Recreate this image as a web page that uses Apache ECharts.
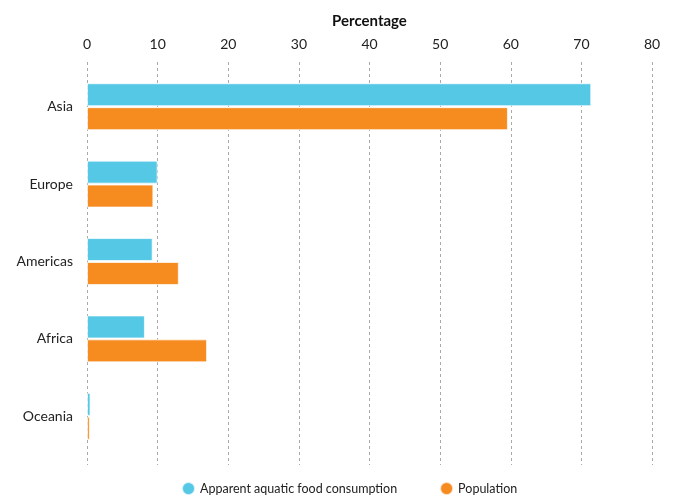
<!DOCTYPE html>
<html>
<head>
<meta charset="utf-8">
<script src="https://cdn.jsdelivr.net/npm/echarts@6/dist/echarts.min.js"></script>
<style>html,body{margin:0;padding:0;background:#fff}#c{width:678px;height:496px}</style>
</head>
<body>
<div id="c"></div>
<script>
const categories = ["Asia", "Europe", "Americas", "Africa", "Oceania"];
const consumption = [71.4, 10.0, 9.3, 8.2, 0.5];
const population = [59.6, 9.4, 13.0, 17.0, 0.4];
const seriesNames = ["Apparent aquatic food consumption", "Population"];
const xMin = 0, xMax = 80, xStep = 10;

const FONT = "Lato";
const chart = echarts.init(document.getElementById('c'), null, {renderer: 'canvas'});
chart.setOption({
  backgroundColor: '#fff',
  animation: false,
  textStyle: {fontFamily: FONT},
  legend: {
    data: seriesNames,
    left: 176,
    bottom: -5,
    icon: 'circle',
    itemWidth: 13,
    itemHeight: 13,
    itemGap: 42,
    textStyle: {color: '#222', fontSize: 12.5, fontFamily: FONT}
  },
  grid: [
    {left: 87, right: 26, top: 62, bottom: 31},
    {left: 87, right: 26, top: 68, bottom: 41}
  ],
  xAxis: [
    {
      gridIndex: 0, type: 'value', position: 'top', min: xMin, max: xMax, interval: xStep,
      name: 'Percentage', nameLocation: 'middle', nameGap: 33,
      nameTextStyle: {color: '#111', fontSize: 15, fontWeight: 'bold', fontFamily: FONT},
      axisLine: {show: false}, axisTick: {show: false},
      axisLabel: {color: '#222', fontSize: 14, margin: 11, fontFamily: FONT},
      splitLine: {show: true, lineStyle: {color: '#aaa', type: [3, 3], width: 1}}
    },
    {
      gridIndex: 1, type: 'value', min: xMin, max: xMax, interval: xStep, show: false,
      splitLine: {show: false}
    }
  ],
  yAxis: [
    {gridIndex: 0, type: 'value', show: false, splitLine: {show: false}},
    {
      gridIndex: 1, type: 'category', data: categories, inverse: true,
      axisLine: {show: false}, axisTick: {show: false},
      axisLabel: {color: '#222', fontSize: 14, margin: 14, fontFamily: FONT}
    }
  ],
  series: [
    {
      name: seriesNames[0], type: 'bar', xAxisIndex: 1, yAxisIndex: 1,
      data: consumption, barWidth: 23, barGap: '4%',
      itemStyle: {color: '#55c8e6', borderColor: 'rgba(255,255,255,0.7)', borderWidth: 1}
    },
    {
      name: seriesNames[1], type: 'bar', xAxisIndex: 1, yAxisIndex: 1,
      data: population, barWidth: 23,
      itemStyle: {color: '#f68b1f', borderColor: 'rgba(255,255,255,0.7)', borderWidth: 1}
    }
  ]
});
</script>
</body>
</html>
